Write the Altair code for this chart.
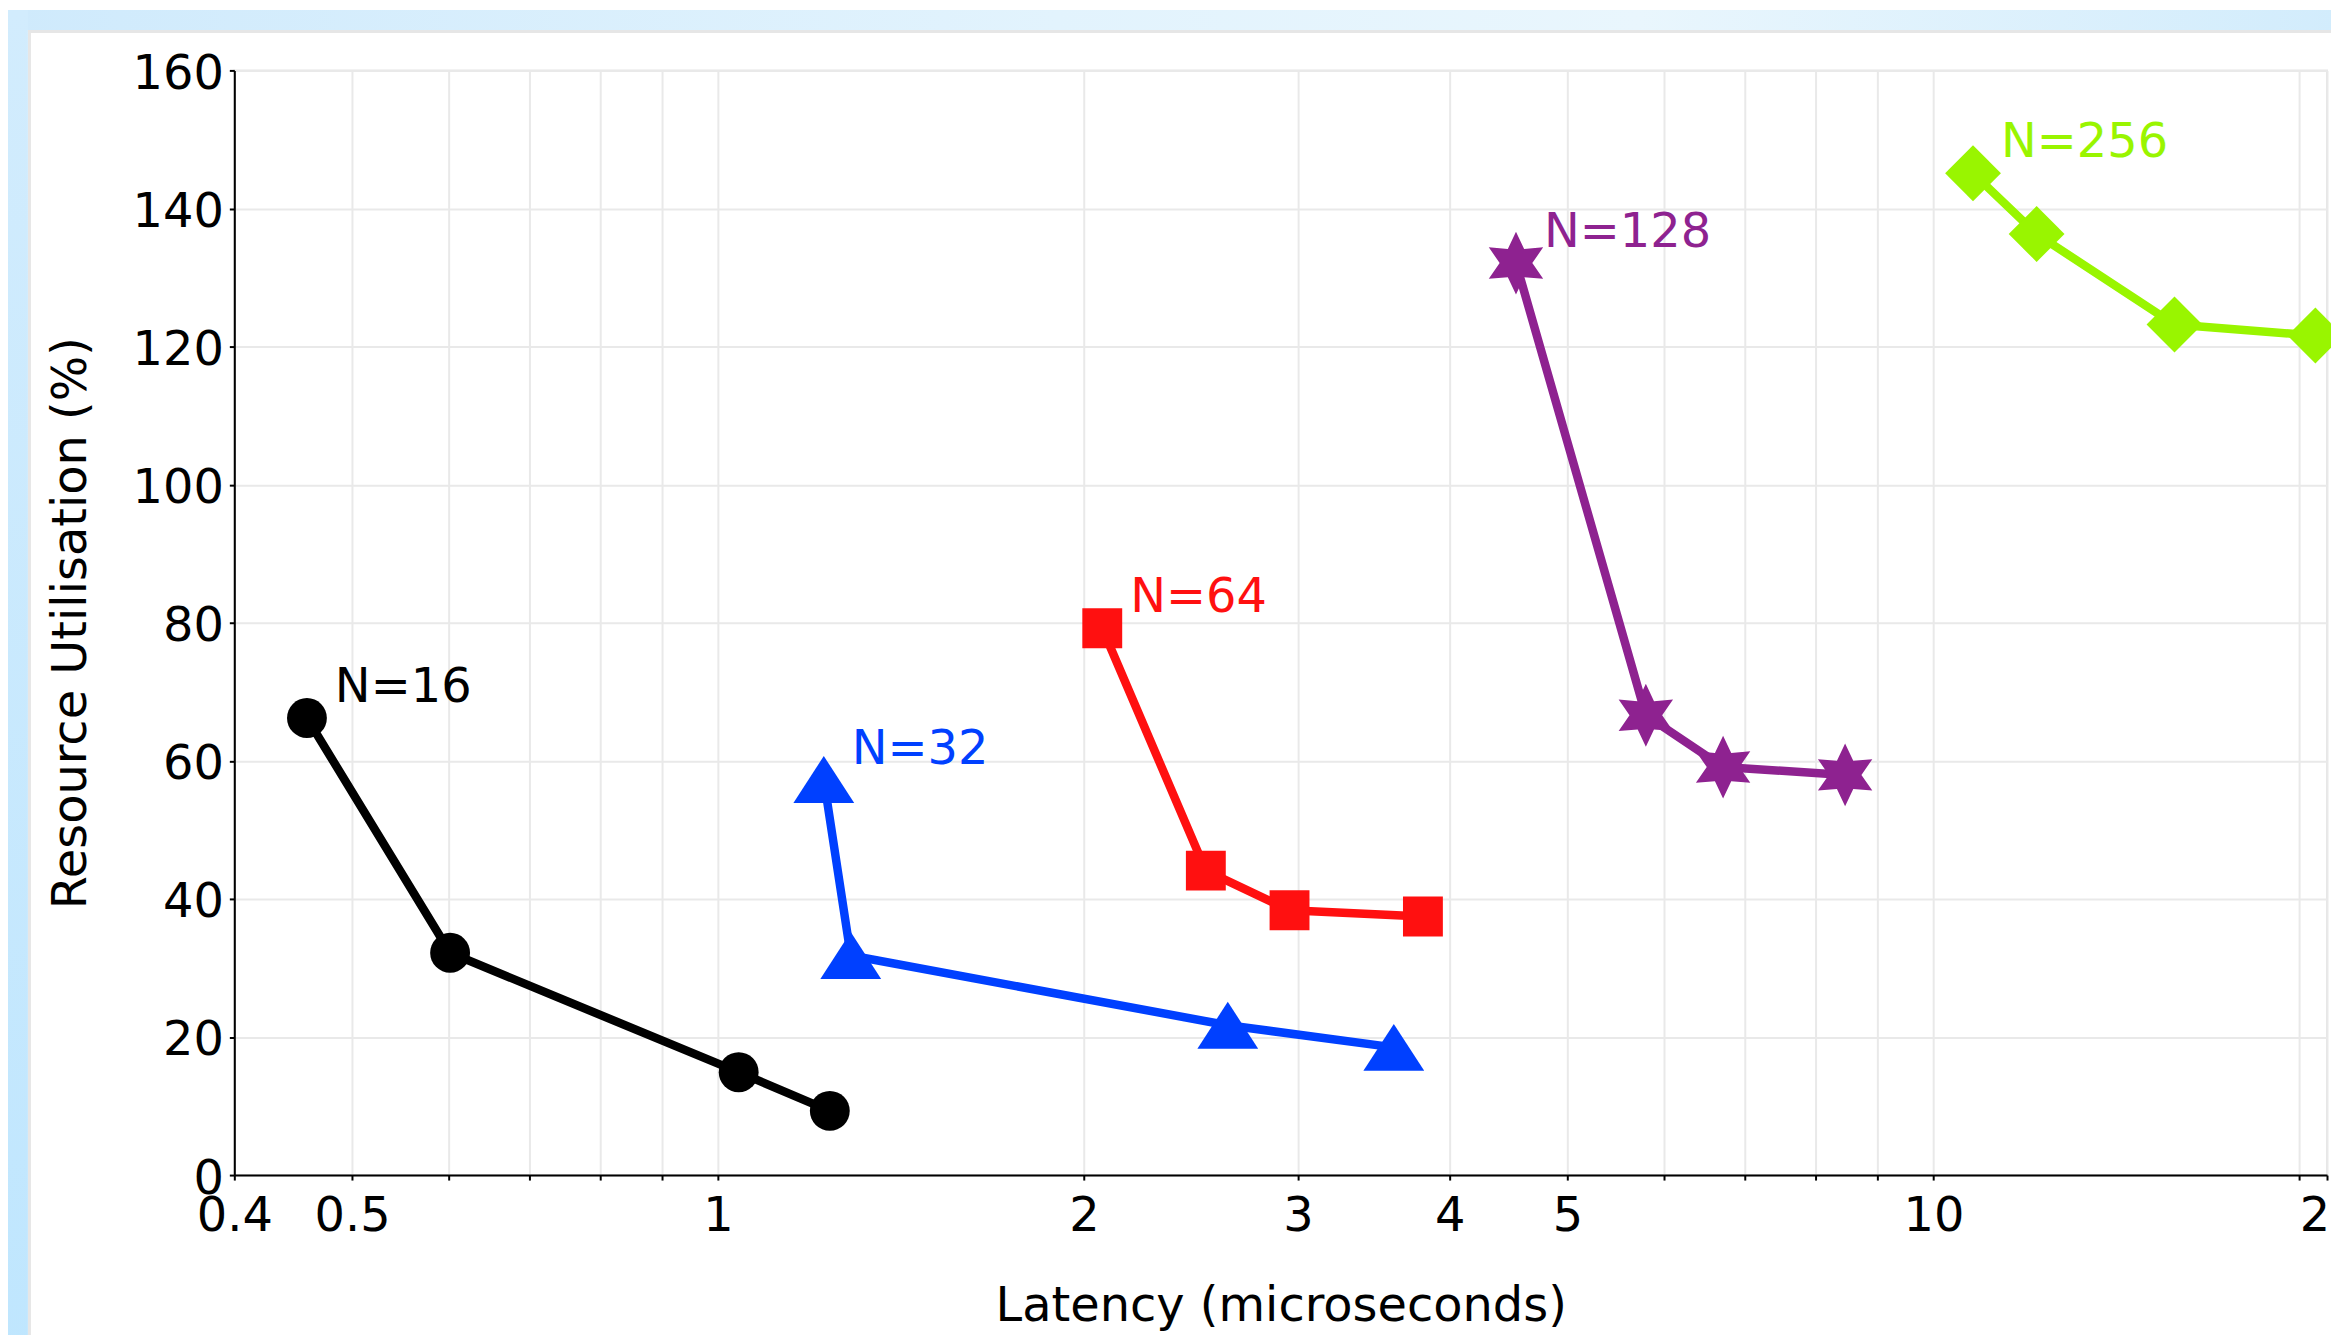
import altair as alt
import pandas as pd

# ---------------- data ----------------
series = ["N=16", "N=32", "N=64", "N=128", "N=256"]
latency = {
    "N=16": [0.459, 0.602, 1.04, 1.236],
    "N=32": [1.222, 1.286, 2.627, 3.598],
    "N=64": [2.071, 2.520, 2.953, 3.802],
    "N=128": [4.535, 5.800, 6.714, 8.46],
    "N=256": [10.78, 12.16, 15.79, 20.62],
}
utilisation = {
    "N=16": [66.2, 32.2, 14.9, 9.3],
    "N=32": [57.3, 31.8, 21.7, 18.5],
    "N=64": [79.2, 44.1, 38.35, 37.45],
    "N=128": [132.1, 66.6, 59.1, 57.96],
    "N=256": [145.1, 136.3, 123.2, 121.6],
}
x_ticks = [0.4, 0.5, 0.6, 0.7, 0.8, 0.9, 1, 2, 3, 4, 5, 6, 7, 8, 9, 10, 20, 21.08]
x_labelled = [0.4, 0.5, 1, 2, 3, 4, 5, 10, 20]
y_ticks = [0, 20, 40, 60, 80, 100, 120, 140, 160]

# ---------------- styling ----------------
colors = ["#000000", "#0040ff", "#ff1010", "#8e2290", "#99f500"]
TRI = "M0,-0.77L1,0.77L-1,0.77Z"
STAR = ("M0,-1L0.26,-0.45L0.866,-0.5L0.52,0L0.866,0.5L0.26,0.45L0,1"
        "L-0.26,0.45L-0.866,0.5L-0.52,0L-0.866,-0.5L-0.26,-0.45Z")
shapes = ["circle", TRI, "square", STAR, "diamond"]
sizes = [1600, 3721, 1600, 3969, 3136]
FONT = "DejaVu Sans"

rows = []
for s in series:
    for i, (lx, uy) in enumerate(zip(latency[s], utilisation[s])):
        rows.append({"series": s, "order": i, "latency": lx, "util": uy})
df = pd.DataFrame(rows)
first = df[df["order"] == 0]

W, H = 2099, 1108
PL, PT = 227, 60.6

xscale = alt.Scale(type="log", domain=[0.4, 21.08], nice=False)
yscale = alt.Scale(domain=[0, 160], nice=False)
cscale = alt.Scale(domain=series, range=colors)

label_test = "indexof(" + str(x_labelled) + ", datum.value) >= 0"

x_enc = alt.X(
    "latency:Q", scale=xscale,
    axis=alt.Axis(
        title="Latency (microseconds)", values=x_ticks, format="~g",
        labelExpr=label_test + " ? datum.label : ''",
        labelAlign=alt.expr("datum.value == 20 ? 'left' : 'center'"),
        titleY=108, titleBaseline="top", labelPadding=13,
    ),
)
y_enc = alt.Y(
    "util:Q", scale=yscale,
    axis=alt.Axis(
        title="Resource Utilisation (%)", values=y_ticks,
        titleX=-163, titleY=H / 2, titleBaseline="middle", titleAngle=270,
        labelPadding=6, labelOffset=4,
    ),
)

lines = alt.Chart(df).mark_line(strokeWidth=8.5, strokeJoin="round").encode(
    x=x_enc, y=y_enc,
    color=alt.Color("series:N", scale=cscale, legend=None),
    detail="series:N", order="order:Q",
)
points = alt.Chart(df).mark_point(filled=True, opacity=1, strokeWidth=0).encode(
    x="latency:Q", y="util:Q",
    color=alt.Color("series:N", scale=cscale, legend=None),
    shape=alt.Shape("series:N", scale=alt.Scale(domain=series, range=shapes), legend=None),
    size=alt.Size("series:N",
                  scale=alt.Scale(type="ordinal", domain=series, range=sizes),
                  legend=None),
)
labels = alt.Chart(first).mark_text(
    align="left", baseline="middle", dx=28, dy=-30, fontSize=48, font=FONT
).encode(
    x="latency:Q", y="util:Q", text="series:N",
    color=alt.Color("series:N", scale=cscale, legend=None),
)

# ---------------- frame decoration (blue surround, grey panel edge) ----------------
dummy = pd.DataFrame({"k": [0]})
top_grad = alt.Gradient(
    gradient="linear", x1=0, x2=1, y1=0, y2=0,
    stops=[alt.GradientStop(color="#cfeafc", offset=0),
           alt.GradientStop(color="#e2f3fd", offset=0.45),
           alt.GradientStop(color="#e9f6fd", offset=0.7),
           alt.GradientStop(color="#d2ecfc", offset=1)],
)
left_grad = alt.Gradient(
    gradient="linear", x1=0, x2=0, y1=0, y2=1,
    stops=[alt.GradientStop(color="#d2ecfd", offset=0),
           alt.GradientStop(color="#bfe6fe", offset=1)],
)
top_strip = alt.Chart(dummy).mark_rect(color=top_grad).encode(
    x=alt.value(-PL), x2=alt.value(W + 10), y=alt.value(-PT), y2=alt.value(-40.6))
left_strip = alt.Chart(dummy).mark_rect(color=left_grad).encode(
    x=alt.value(-PL), x2=alt.value(-207), y=alt.value(-PT), y2=alt.value(H + 200))
edge_top = alt.Chart(dummy).mark_rect(color="#e6e6e6").encode(
    x=alt.value(-207), x2=alt.value(W + 10), y=alt.value(-40.6), y2=alt.value(-37.6))
edge_left = alt.Chart(dummy).mark_rect(color="#e6e6e6").encode(
    x=alt.value(-207), x2=alt.value(-204), y=alt.value(-40.6), y2=alt.value(H + 200))

chart = alt.layer(
    top_strip, left_strip, edge_top, edge_left, lines, points, labels
).properties(
    width=W, height=H,
    autosize=alt.AutoSizeParams(type="none"),
    padding={"left": PL, "top": PT, "right": 4, "bottom": 158},
    background="white",
).configure_view(
    stroke="#e6e6e6", strokeWidth=2,
).configure_axis(
    labelFont=FONT, titleFont=FONT, labelFontSize=48, titleFontSize=48,
    labelColor="black", titleColor="black", titleFontWeight="normal",
    domainColor="black", domainWidth=2, tickColor="black", tickWidth=2, tickSize=5,
    gridColor="#e9e9e9", gridWidth=2, labelOverlap=False, labelFlush=False,
)

chart.save("out.html", embed_options={"renderer": "svg", "actions": False})
